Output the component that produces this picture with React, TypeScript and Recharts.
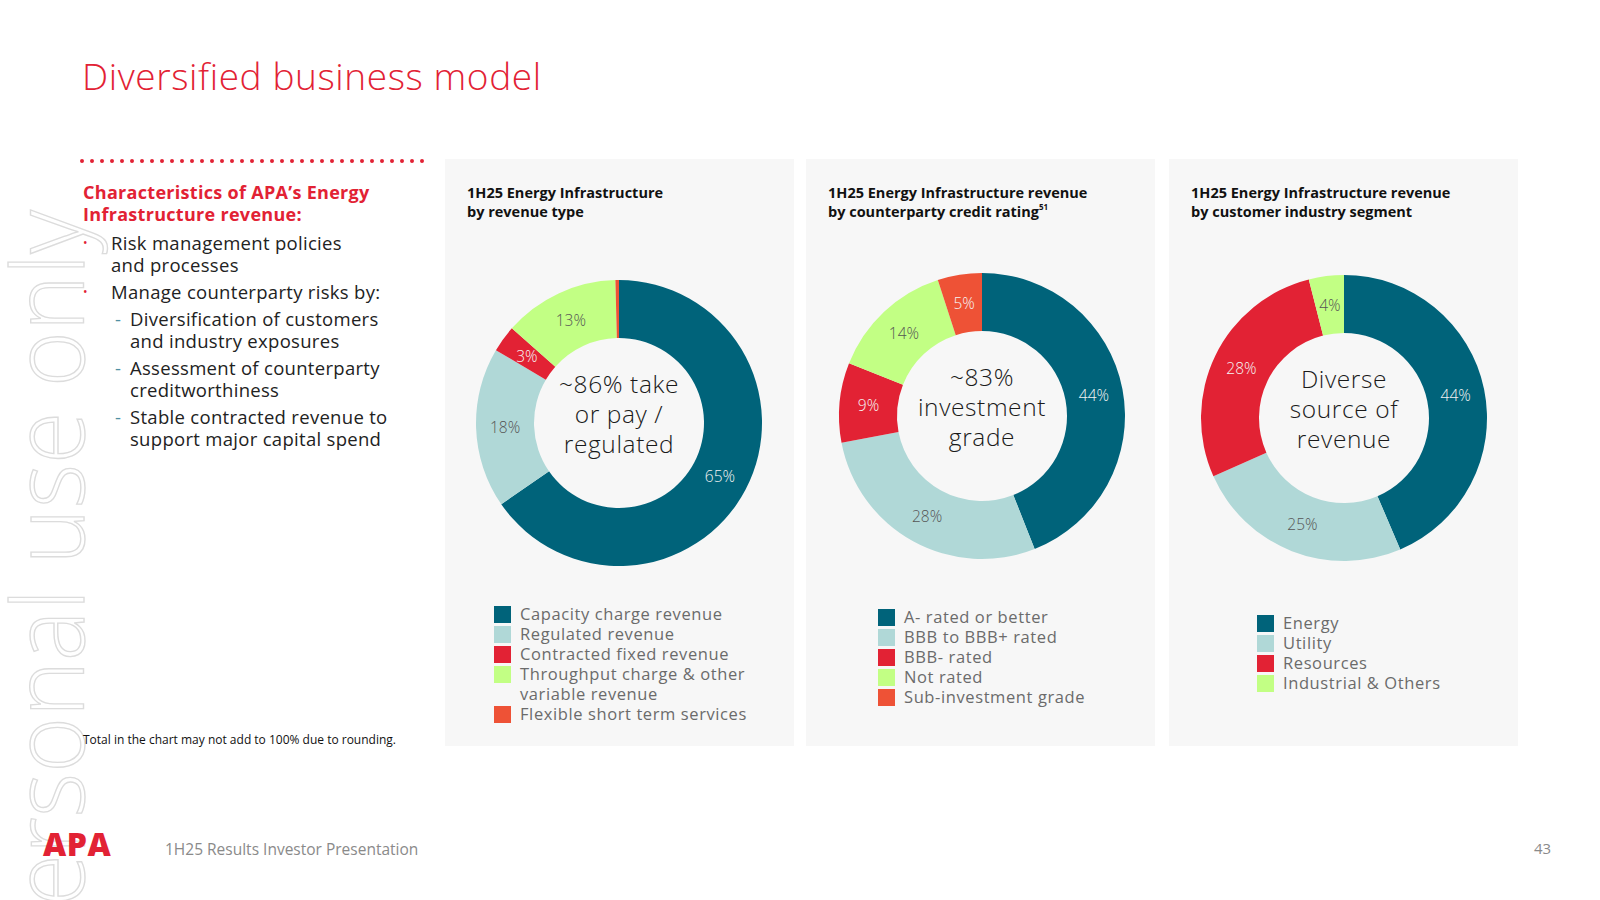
import { PieChart, Pie, Cell } from "recharts";

// slice values (clockwise from 12 o'clock)
const revenueTypeLabels = [
  "Capacity charge revenue",
  "Regulated revenue",
  "Contracted fixed revenue",
  "Throughput charge & other\nvariable revenue",
  "Flexible short term services",
];
const revenueTypeValues = [65, 18, 3, 13, 0.4];

const creditRatingLabels = [
  "A- rated or better",
  "BBB to BBB+ rated",
  "BBB- rated",
  "Not rated",
  "Sub-investment grade",
];
const creditRatingValues = [44, 28, 9, 14, 5];

const industryLabels = ["Energy", "Utility", "Resources", "Industrial & Others"];
const industryValues = [44, 25, 28, 4];

const sliceColors = ["#00637a", "#b0d8d7", "#e22234", "#c2ff84", "#ee5236"];
const sliceTextColors = ["#f2f2f2", "#555555", "#f5f5f5", "#555555", "#f5f5f5"];

const FONT = "'Open Sans', sans-serif";
const RADIAN = Math.PI / 180;

const renderLabel = (props: any) => {
  const { cx, cy, midAngle, innerRadius, outerRadius, value, index } = props;
  if (value < 1) return null;
  const r = (innerRadius + outerRadius) / 2;
  const x = cx + r * Math.cos(-midAngle * RADIAN);
  const y = cy + r * Math.sin(-midAngle * RADIAN);
  return (
    <text
      x={x}
      y={y}
      fill={sliceTextColors[index]}
      textAnchor="middle"
      dominantBaseline="central"
      style={{ fontFamily: FONT, fontSize: 15.5, fontWeight: 300 }}
    >
      {`${value}%`}
    </text>
  );
};

interface DonutPanelProps {
  left: number;
  title: React.ReactNode;
  labels: string[];
  values: number[];
  center: string[];
  cx: number;
  cy: number;
  legendLeft: number;
  legendTop: number;
}

function DonutPanel({ left, title, labels, values, center, cx, cy, legendLeft, legendTop }: DonutPanelProps) {
  const data = labels.map((name, i) => ({ name, value: values[i] }));
  const size = 320;
  return (
    <>
      <div
        style={{
          position: "absolute",
          left,
          top: 159,
          width: 349,
          height: 587,
          background: "#f7f7f7",
        }}
      />
      <div
        style={{
          position: "absolute",
          left: left + 22,
          top: 183,
          fontFamily: FONT,
          fontWeight: 700,
          fontSize: 14.5,
          lineHeight: "19px",
          color: "#111",
          whiteSpace: "nowrap",
        }}
      >
        {title}
      </div>
      <div style={{ position: "absolute", left: cx - size / 2, top: cy - size / 2 }}>
        <PieChart width={size} height={size}>
          <Pie
            data={data}
            dataKey="value"
            cx="50%"
            cy="50%"
            innerRadius={85}
            outerRadius={143}
            startAngle={90}
            endAngle={-270}
            stroke="none"
            label={renderLabel}
            labelLine={false}
            isAnimationActive={false}
          >
            {data.map((d, i) => (
              <Cell key={d.name} fill={sliceColors[i]} />
            ))}
          </Pie>
        </PieChart>
      </div>
      <div
        style={{
          position: "absolute",
          left: cx - 95,
          top: cy - 54,
          width: 190,
          textAlign: "center",
          fontFamily: FONT,
          fontWeight: 300,
          fontSize: 24.5,
          letterSpacing: 0.6,
          lineHeight: "30px",
          color: "#1a1a1a",
        }}
      >
        {center.map((line, i) => (
          <span key={line}>
            {i > 0 && <br />}
            {line}
          </span>
        ))}
      </div>
      <div style={{ position: "absolute", left: legendLeft, top: legendTop }}>
        {labels.map((name, i) => (
          <div key={name} style={{ display: "flex", alignItems: "flex-start" }}>
            <div
              style={{
                width: 17,
                height: 17,
                marginTop: 2,
                background: sliceColors[i],
                flexShrink: 0,
              }}
            />
            <div
              style={{
                marginLeft: 9,
                fontFamily: FONT,
                fontSize: 16.5,
                letterSpacing: 0.6,
                lineHeight: "20px",
                color: "#6b6b6b",
                whiteSpace: "pre-line",
              }}
            >
              {name}
            </div>
          </div>
        ))}
      </div>
    </>
  );
}

export default function App() {
  return (
    <div
      style={{
        position: "absolute",
        left: 0,
        top: 0,
        width: 1600,
        height: 900,
        background: "#ffffff",
        overflow: "hidden",
        fontFamily: FONT,
      }}
    >
      {/* watermark */}
      <svg width={1600} height={900} style={{ position: "absolute", left: 0, top: 0 }}>
        <text
          x={84}
          y={962}
          transform="rotate(-90 84 962)"
          textLength={752}
          lengthAdjust="spacingAndGlyphs"
          fill="none"
          stroke="#dcdcdc"
          strokeWidth={1.4}
          style={{ fontFamily: FONT, fontSize: 100, fontWeight: 300 }}
        >
          Personal use only
        </text>
        <line
          x1={82}
          y1={161}
          x2={425}
          y2={161}
          stroke="#e22234"
          strokeWidth={4}
          strokeLinecap="round"
          strokeDasharray="0 10"
        />
      </svg>

      <div
        style={{
          position: "absolute",
          left: 82,
          top: 50,
          fontSize: 37,
          letterSpacing: 0.6,
          fontWeight: 300,
          color: "#e22234",
          whiteSpace: "nowrap",
        }}
      >
        Diversified business model
      </div>

      <div
        style={{
          position: "absolute",
          left: 83,
          top: 181,
          fontSize: 18,
          letterSpacing: 0.3,
          fontWeight: 700,
          lineHeight: "22px",
          color: "#e22234",
          whiteSpace: "nowrap",
        }}
      >
        Characteristics of APA’s Energy
        <br />
        Infrastructure revenue:
      </div>

      <div
        style={{
          position: "absolute",
          left: 83,
          top: 232,
          fontSize: 18.5,
          letterSpacing: 0.3,
          lineHeight: "22px",
          color: "#222",
          whiteSpace: "nowrap",
        }}
      >
        <div style={{ position: "relative", paddingLeft: 28 }}>
          <span style={{ position: "absolute", left: 0, color: "#e22234", fontSize: 12 }}>•</span>
          Risk management policies
          <br />
          and processes
        </div>
        <div style={{ position: "relative", paddingLeft: 28, marginTop: 5 }}>
          <span style={{ position: "absolute", left: 0, color: "#e22234", fontSize: 12 }}>•</span>
          Manage counterparty risks by:
        </div>
        <div style={{ position: "relative", paddingLeft: 47, marginTop: 5 }}>
          <span style={{ position: "absolute", left: 32, color: "#4f8fa3" }}>-</span>
          Diversification of customers
          <br />
          and industry exposures
        </div>
        <div style={{ position: "relative", paddingLeft: 47, marginTop: 5 }}>
          <span style={{ position: "absolute", left: 32, color: "#4f8fa3" }}>-</span>
          Assessment of counterparty
          <br />
          creditworthiness
        </div>
        <div style={{ position: "relative", paddingLeft: 47, marginTop: 5 }}>
          <span style={{ position: "absolute", left: 32, color: "#4f8fa3" }}>-</span>
          Stable contracted revenue to
          <br />
          support major capital spend
        </div>
      </div>

      <div
        style={{
          position: "absolute",
          left: 83,
          top: 731,
          fontSize: 12,
          color: "#111",
          whiteSpace: "nowrap",
        }}
      >
        Total in the chart may not add to 100% due to rounding.
      </div>

      <DonutPanel
        left={445}
        title={
          <>
            1H25 Energy Infrastructure
            <br />
            by revenue type
          </>
        }
        labels={revenueTypeLabels}
        values={revenueTypeValues}
        center={["~86% take", "or pay /", "regulated"]}
        cx={619}
        cy={423}
        legendLeft={494}
        legendTop={604}
      />
      <DonutPanel
        left={806}
        title={
          <>
            1H25 Energy Infrastructure revenue
            <br />
            by counterparty credit rating
            <span style={{ fontSize: 8, position: "relative", top: -7 }}>51</span>
          </>
        }
        labels={creditRatingLabels}
        values={creditRatingValues}
        center={["~83%", "investment", "grade"]}
        cx={982}
        cy={416}
        legendLeft={878}
        legendTop={607}
      />
      <DonutPanel
        left={1169}
        title={
          <>
            1H25 Energy Infrastructure revenue
            <br />
            by customer industry segment
          </>
        }
        labels={industryLabels}
        values={industryValues}
        center={["Diverse", "source of", "revenue"]}
        cx={1344}
        cy={418}
        legendLeft={1257}
        legendTop={613}
      />

      {/* footer */}
      <div
        style={{
          position: "absolute",
          left: 43,
          top: 826,
          fontSize: 32,
          fontWeight: 800,
          color: "#e22234",
          letterSpacing: 0.5,
          lineHeight: "36px",
        }}
      >
        APA
      </div>
      <div
        style={{
          position: "absolute",
          left: 165,
          top: 838,
          fontSize: 15.5,
          color: "#8a8a8a",
          whiteSpace: "nowrap",
        }}
      >
        1H25 Results Investor Presentation
      </div>
      <div
        style={{
          position: "absolute",
          left: 1534,
          top: 838,
          fontSize: 15,
          color: "#8a8a8a",
        }}
      >
        43
      </div>
    </div>
  );
}
